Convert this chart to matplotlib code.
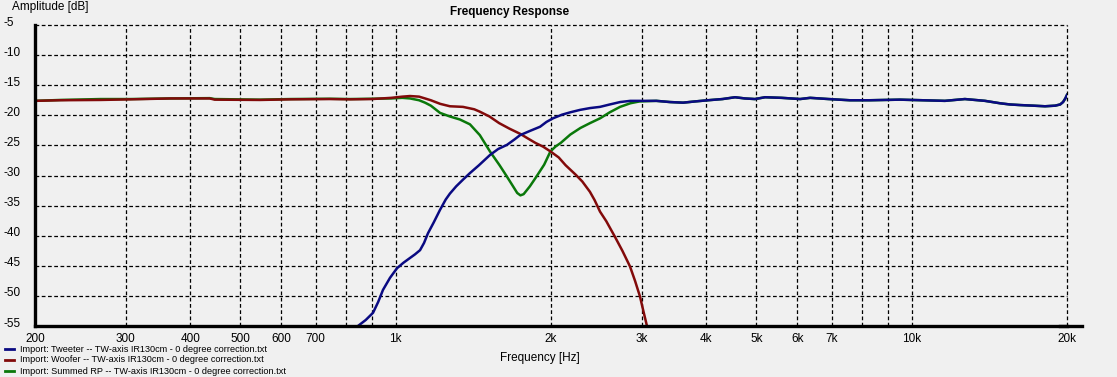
import numpy as np
import matplotlib
matplotlib.use('Agg')
import matplotlib.pyplot as plt
from matplotlib.transforms import blended_transform_factory
from matplotlib.lines import Line2D

plt.rcParams['font.family'] = ['Liberation Sans', 'DejaVu Sans']

# tweeter
f_tw = [820, 845, 875, 904, 925, 945, 975, 1006, 1035, 1066, 1090, 1115, 1135, 1155, 1185,
        1219, 1250, 1274, 1310, 1350, 1393, 1450, 1523, 1580, 1644, 1700, 1742, 1820, 1905,
        1960, 2018, 2100, 2180, 2277, 2380, 2489, 2600, 2722, 2850, 2975, 3200, 3403, 3606,
        3800, 4029, 4300, 4547, 4750, 4970, 5199, 5600, 6077, 6356, 6900, 7586, 8302, 9490,
        10500, 11600, 12680, 13870, 14830, 15500, 16220, 17200, 18130, 18970, 19400, 19650,
        19850, 20000]
db_tw = [-57.0, -55.0, -54.0, -52.8, -51.0, -49.0, -47.0, -45.4, -44.5, -43.7, -43.1, -42.4,
         -41.2, -39.6, -37.8, -35.7, -34.0, -33.0, -31.8, -30.7, -29.6, -28.3, -26.6, -25.6,
         -24.9, -24.0, -23.3, -22.6, -21.9, -21.1, -20.5, -19.9, -19.5, -19.1, -18.8, -18.6,
         -18.2, -17.8, -17.6, -17.6, -17.6, -17.8, -17.9, -17.7, -17.5, -17.3, -17.0, -17.2,
         -17.3, -17.0, -17.1, -17.3, -17.1, -17.3, -17.5, -17.5, -17.4, -17.5, -17.6, -17.3,
         -17.6, -18.0, -18.2, -18.3, -18.4, -18.5, -18.4, -18.2, -17.8, -17.2, -16.6]

# woofer
f_wf = [200, 224, 268, 306, 366, 436, 446, 546, 625, 745, 815, 900, 980, 1030, 1066, 1110,
        1140, 1170, 1220, 1274, 1350, 1420, 1456, 1520, 1587, 1660, 1745, 1800, 1867, 1930,
        1995, 2070, 2135, 2235, 2300, 2379, 2430, 2489, 2560, 2661, 2750, 2845, 2910, 2975,
        3020, 3069, 3150]
db_wf = [-17.6, -17.5, -17.45, -17.35, -17.2, -17.2, -17.4, -17.45, -17.35, -17.3, -17.35,
         -17.3, -17.1, -16.9, -16.8, -16.9, -17.2, -17.5, -18.1, -18.5, -18.6, -19.0, -19.4,
         -20.2, -21.3, -22.2, -23.1, -23.8, -24.6, -25.2, -26.0, -27.0, -28.3, -29.9, -31.0,
         -32.7, -34.1, -36.0, -37.6, -40.2, -42.5, -45.1, -47.5, -50.1, -52.5, -55.0, -57.5]

# summed
f_sum = [200, 224, 268, 306, 366, 436, 446, 546, 625, 745, 815, 900, 980, 1030, 1066, 1110,
         1140, 1170, 1219, 1274, 1332, 1393, 1456, 1523, 1590, 1635, 1680, 1720, 1745, 1770,
         1820, 1867, 1940, 1995, 2040, 2088, 2180, 2281, 2380, 2490, 2600, 2722, 2850, 2967,
         3200, 3403, 3606, 3800, 4029, 4300, 4547, 4750, 4970, 5199, 5600, 6077, 6356, 6900,
         7586, 8302, 9490, 10500, 11600, 12680, 13870, 14830, 15500, 16220, 17200, 18130,
         18970, 19400, 19650, 19850, 20000]
db_sum = [-17.6, -17.45, -17.3, -17.3, -17.2, -17.15, -17.3, -17.4, -17.3, -17.25, -17.3,
          -17.25, -17.2, -17.1, -17.2, -17.5, -17.9, -18.4, -19.6, -20.2, -20.7, -21.5, -23.3,
          -26.0, -28.3, -29.9, -31.5, -32.9, -33.3, -33.1, -31.8, -30.4, -28.2, -26.0, -25.2,
          -24.6, -23.2, -22.1, -21.3, -20.5, -19.5, -18.6, -18.0, -17.7, -17.6, -17.8, -17.9,
          -17.7, -17.5, -17.3, -17.0, -17.2, -17.3, -17.0, -17.1, -17.3, -17.1, -17.3, -17.5,
          -17.5, -17.4, -17.5, -17.6, -17.3, -17.6, -18.0, -18.2, -18.3, -18.4, -18.5, -18.4,
          -18.2, -17.8, -17.2, -16.6]

names = ['Import: Tweeter -- TW-axis IR130cm - 0 degree correction.txt',
         'Import: Woofer -- TW-axis IR130cm - 0 degree correction.txt',
         'Import: Summed RP -- TW-axis IR130cm - 0 degree correction.txt']
colors = ['#0a0a82', '#820a0a', '#0a780a']

xticks = [200, 300, 400, 500, 600, 700, 1000, 2000, 3000, 4000, 5000, 6000, 7000, 10000, 20000]
xlabels = ['200', '300', '400', '500', '600', '700', '1k', '2k', '3k', '4k', '5k', '6k', '7k', '10k', '20k']
xgrid = [300, 400, 500, 600, 700, 800, 900, 1000, 2000, 3000, 4000, 5000, 6000, 7000, 8000,
         9000, 10000, 20000]
yticks = [-5, -10, -15, -20, -25, -30, -35, -40, -45, -50, -55]

W, H = 1117, 377
bg = '#f0f0f0'
fig = plt.figure(figsize=(W / 100, H / 100), dpi=100, facecolor=bg)
ax = fig.add_axes([35 / W, 1 - 326 / H, (1067 - 35) / W, (326 - 25) / H], facecolor=bg)

ax.set_xscale('log')
ax.set_xlim(200, 20000)
ax.set_ylim(-55, -5)

for g in xgrid:
    ax.axvline(g, color='black', lw=0.9, ls=(0, (3, 2)), zorder=1, clip_on=False)
for t in yticks[:-1]:
    ax.axhline(t, color='black', lw=0.9, ls=(0, (3, 2)), zorder=1, clip_on=False)

ax.plot(f_sum, db_sum, color=colors[2], lw=1.8, zorder=3)
ax.plot(f_wf, db_wf, color=colors[1], lw=1.8, zorder=4)
ax.plot(f_tw, db_tw, color=colors[0], lw=1.8, zorder=5)

for s in ['top', 'right']:
    ax.spines[s].set_visible(False)
ax.spines['left'].set_linewidth(2.4)
ax.spines['bottom'].set_linewidth(2.4)
ax.spines['left'].set_zorder(6)
ax.spines['bottom'].set_zorder(6)
fig.add_artist(Line2D([1060 / W, 1082 / W], [1 - 326 / H, 1 - 326 / H], color='black', lw=2.4))

ax.set_xticks(xticks)
ax.set_xticklabels(xlabels)
ax.xaxis.set_minor_locator(plt.NullLocator())
ax.tick_params(axis='x', length=0, pad=5, labelsize=8.5)
ax.set_yticks([])

tr = blended_transform_factory(fig.transFigure, ax.transData)
for t in yticks:
    ax.text(3 / W, t + 0.4, str(t), transform=tr, ha='left', va='center', fontsize=8.5)

fig.text(510 / W, 1 - 12 / H, 'Frequency Response', ha='center', va='center',
         fontsize=8.5, fontweight='bold')
fig.text(12 / W, 1 - 7 / H, 'Amplitude [dB]', ha='left', va='center', fontsize=8.5)
fig.text(540 / W, 1 - 358 / H, 'Frequency [Hz]', ha='center', va='center', fontsize=8.5)

for i, (n, c) in enumerate(zip(names, colors)):
    yy = 1 - (349 + 11 * i) / H
    fig.add_artist(Line2D([5 / W, 14 / W], [yy, yy], color=c, lw=2))
    fig.text(20 / W, yy, n, ha='left', va='center', fontsize=6.6)

fig.savefig('out.png', dpi=100, facecolor=bg)
